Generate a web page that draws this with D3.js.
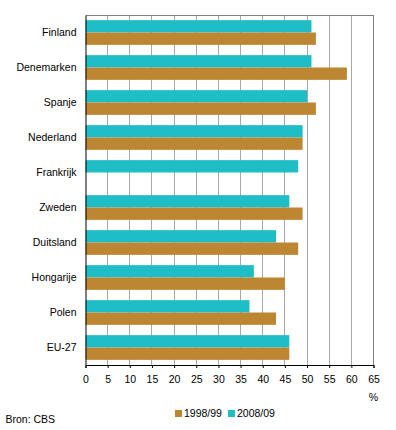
<!DOCTYPE html>
<html><head><meta charset="utf-8">
<script src="https://cdn.jsdelivr.net/npm/d3@7/dist/d3.min.js"></script>
<style>body{margin:0;background:#fff}svg{display:block}text{font-family:"Liberation Sans",Arial,sans-serif;font-size:10.5px;fill:#000}</style>
</head><body><svg id="c" width="396" height="430"></svg>
<script>
const categories = ["Finland","Denemarken","Spanje","Nederland","Frankrijk","Zweden","Duitsland","Hongarije","Polen","EU-27"];
const series = ["2008/09","1998/99"];
const values2008 = [51,51,50,49,48,46,43,38,37,46];
const values1998 = [52,59,52,49,null,49,48,45,43,46];
const xTicks = [0,5,10,15,20,25,30,35,40,45,50,55,60,65];
const legendOrder = ["1998/99","2008/09"];
const colors = {"2008/09":"#1fbdc6","1998/99":"#bc8632"};

const svg = d3.select("#c");
const x = d3.scaleLinear().domain([0,65]).range([85.5,373.5]);
const y = d3.scaleBand().domain(categories).range([15,365]);
const ys = d3.scaleBand().domain(series).range([0,y.bandwidth()]).paddingOuter(0.417);

// grid
svg.append("g").selectAll("line").data(xTicks.filter(d=>d>0&&d<65)).join("line")
  .attr("x1",d=>x(d)).attr("x2",d=>x(d)).attr("y1",15).attr("y2",365)
  .attr("stroke","#a8a8a8").attr("stroke-width",1).attr("shape-rendering","crispEdges");
// top and right border
svg.append("path").attr("d",`M${x(0)},15.5H${x(65)}V365`).attr("fill","none")
  .attr("stroke","#808080").attr("stroke-width",1).attr("shape-rendering","crispEdges");

const data = [];
categories.forEach((c,i)=>{
  data.push({c,s:"2008/09",v:values2008[i]});
  if(values1998[i]!=null) data.push({c,s:"1998/99",v:values1998[i]});
});
svg.append("g").selectAll("rect").data(data).join("rect")
  .attr("x",x(0)).attr("y",d=>y(d.c)+ys(d.s)).attr("height",ys.bandwidth())
  .attr("width",d=>x(d.v)-x(0)).attr("fill",d=>colors[d.s]);

// axes
const xa = svg.append("g").attr("transform","translate(0,365)")
  .call(d3.axisBottom(x).tickValues(xTicks).tickSize(3).tickPadding(8));
xa.select(".domain").attr("stroke","#000");
xa.selectAll("line").attr("stroke","#000");
xa.selectAll("text").attr("font-size",null).attr("font-family",null).attr("fill","#000");
xa.attr("font-size",null).attr("font-family",null);

const ya = svg.append("g").attr("transform",`translate(${x(0)},0)`)
  .call(d3.axisLeft(y).tickSize(0).tickPadding(9));
ya.select(".domain").attr("stroke","#000");
ya.selectAll("text").attr("fill","#000");
ya.attr("font-size",null).attr("font-family",null);

svg.append("text").attr("x",378).attr("y",401).attr("text-anchor","end").text("%");

// legend
const lg = svg.append("g");
let lx = 175;
legendOrder.forEach(s=>{
  lg.append("rect").attr("x",lx).attr("y",410).attr("width",7).attr("height",7).attr("fill",colors[s]);
  const t = lg.append("text").attr("x",lx+9).attr("y",417).text(s);
  lx += 9 + t.node().getComputedTextLength() + 6;
});
svg.append("text").attr("x",5.5).attr("y",423).text("Bron: CBS");
</script></body></html>
